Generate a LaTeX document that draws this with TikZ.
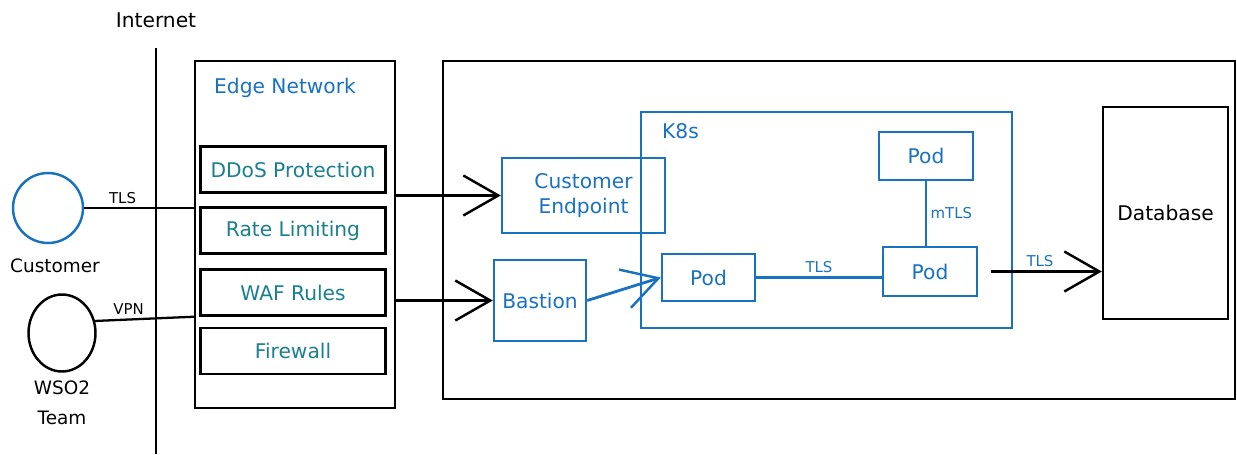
\documentclass[tikz,border=0pt]{standalone}
\usepackage{fontspec}
\setmainfont{DejaVu Sans}
\usetikzlibrary{arrows.meta, shapes.geometric}

\definecolor{skyblue}{HTML}{1971C2}
\definecolor{edgeteal}{HTML}{1A7F8E}

\begin{document}
\begin{tikzpicture}[x=0.02cm, y=-0.02cm,
    >={Straight Barb[length=7mm, width=8mm, line width=1.4pt]},
    box/.style={draw, line width=1.4pt, inner sep=0pt},
    bluebox/.style={box, draw=skyblue, text=skyblue},
    rulebox/.style={box, text=edgeteal, minimum width=3.7cm, minimum height=0.92cm},
    txt/.style={font=\fontsize{11.5}{14}\selectfont},
    tag/.style={font=\fontsize{8.5}{10}\selectfont, inner sep=2pt},
    wire/.style={line width=1.3pt},
    flow/.style={line width=1.6pt, ->}]
    \useasboundingbox (0,0) rectangle (1237,454);

    % Internet boundary
    \node[txt] (inet) at (156,20) {Internet};
    \draw[wire] (inet |- 0,48) -- (inet |- 0,454);

    % Who connects
    \node[circle, draw=skyblue, line width=1.4pt, minimum size=1.4cm] (cust) at (48,208) {};
    \node[font=\fontsize{10.5}{17}\selectfont] (custlbl) at (55,266) {Customer};
    \node[ellipse, draw, line width=1.4pt, minimum width=1.34cm, minimum height=1.54cm] (team) at (62,333) {};
    \node[font=\fontsize{10.5}{17}\selectfont, align=center] (teamlbl) at (62,403) {WSO2\\Team};

    % Edge network and its rules
    \node[box, minimum width=4cm, minimum height=6.94cm] (edge) at (295,234.5) {};
    \node[txt, text=skyblue, anchor=west] (edgelbl) at (208,88) {Edge Network};
    \node[rulebox, txt] (ddos) at (293,169.5) {DDoS Protection};
    \node[rulebox, txt] (rate) at (293,230.5) {Rate Limiting};
    \node[rulebox, txt] (waf) at (293,292.5) {WAF Rules};
    \node[rulebox, txt] (fw) at (293,351) {Firewall};

    % Private network
    \node[box, minimum width=15.84cm, minimum height=6.76cm] (vpc) at (839,230) {};
    \node[bluebox, minimum width=7.42cm, minimum height=4.32cm] (k8s) at (826.5,220) {};
    \node[txt, text=skyblue, anchor=west] (k8slbl) at (656,131) {K8s};
    \node[bluebox, txt, align=center, minimum width=3.26cm, minimum height=1.5cm] (endpoint) at (583.5,195.5) {Customer\\Endpoint};
    \node[bluebox, txt, minimum width=1.84cm, minimum height=1.62cm] (bastion) at (540,300.5) {Bastion};
    \node[bluebox, txt, minimum width=1.86cm, minimum height=0.94cm] (pod1) at (708.5,277.5) {Pod};
    \node[bluebox, txt, minimum width=1.88cm, minimum height=0.96cm] (pod2) at (926,156) {Pod};
    \node[bluebox, txt, minimum width=1.88cm, minimum height=0.98cm] (pod3) at (930,271.5) {Pod};
    \node[box, txt, minimum width=2.5cm, minimum height=4.24cm] (db) at (1165.5,213) {Database};

    % Connections
    \draw[wire] (cust.east) -- node[tag, above, pos=0.35] {TLS} (cust.east -| edge.west);
    \draw[wire] (team.20) -- node[tag, above, pos=0.34] {VPN} (edge.west |- waf.south);
    \draw[flow] (edge.east |- endpoint) -- (endpoint.west);
    \draw[flow] (edge.east |- bastion) -- (bastion.west);
    \draw[flow, skyblue] (bastion.east) -- (pod1.west);
    \draw[wire, skyblue] (pod1.east) -- node[tag, above] {TLS} (pod1.east -| pod3.west);
    \draw[wire, skyblue] (pod2.south) -- node[tag, right] {mTLS} (pod2.south |- pod3.north);
    \draw[flow, shorten <=2.6mm] (pod3.east) -- node[tag, above, text=skyblue] {TLS} (pod3.east -| db.west);
\end{tikzpicture}
\end{document}
